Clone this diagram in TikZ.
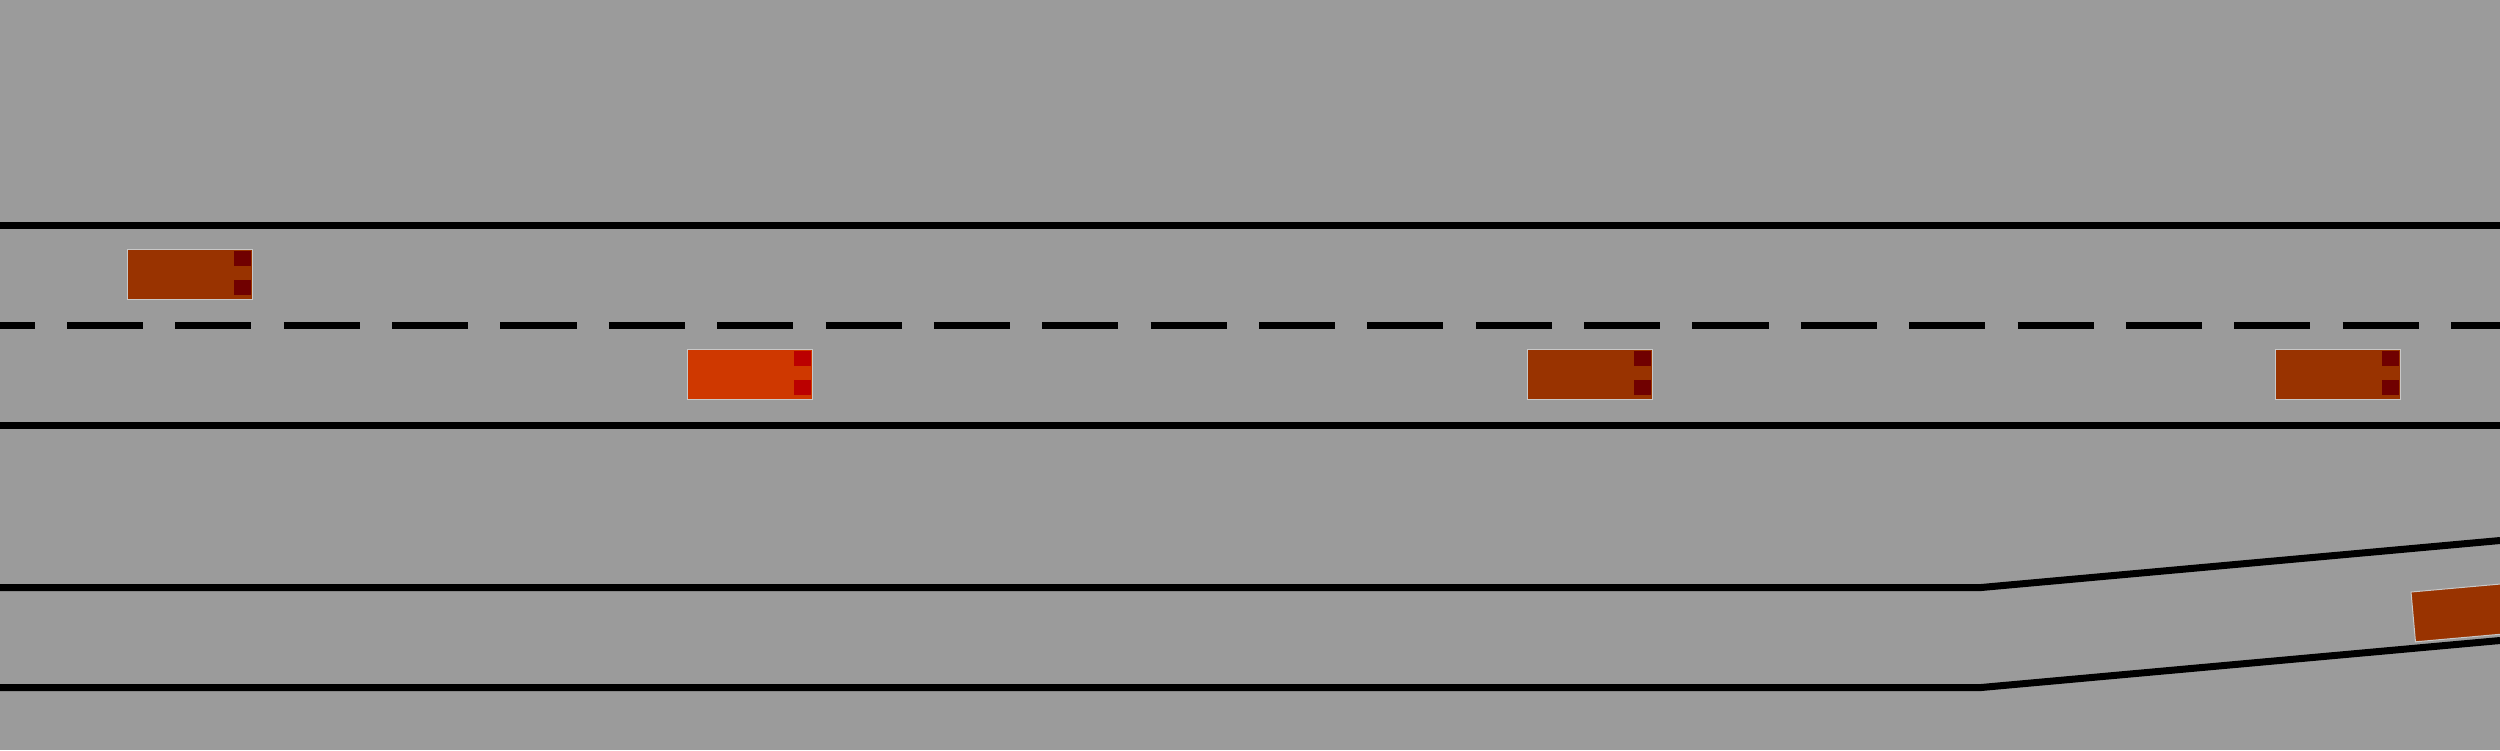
\documentclass[tikz,border=0pt]{standalone}
\usepackage{xcolor}
\usepackage{tikz}
\definecolor{Asphalt}{HTML}{9B9B9B}
\definecolor{Rust}{HTML}{993300}
\definecolor{RustL}{HTML}{700000}
\definecolor{Ego}{HTML}{CF3800}
\definecolor{EgoL}{HTML}{BB0000}
\definecolor{Rim}{HTML}{C8C8C8}

\tikzset{pics/car/.style 2 args={code={
  \filldraw[fill=#1,draw=Rim,line width=0.01cm] (0,0) rectangle (125,50);
  \fill[#2] (107,2) rectangle (124,17);
  \fill[#2] (107,31) rectangle (124,46);
}}}

\begin{document}
\begin{tikzpicture}[x=0.01cm,y=-0.01cm,
    edge/.style={line width=0.07cm},
    lanedash/.style={edge,dash pattern=on 0.76cm off 0.323cm,dash phase=0.413cm}]
  \clip (0,0) rectangle (2500,750);
  \fill[Asphalt] (0,0) rectangle (2500,750);
  % main road
  \draw[edge] (0,225.5) -- (2500,225.5);
  \draw[lanedash] (0,325.5) -- (2500,325.5);
  \draw[edge] (0,425.5) -- (2500,425.5);
  % on-ramp
  \draw[edge] (0,587.5) -- (1981,587.5) -- (2500,540.5);
  \draw[edge] (0,687.5) -- (1981,687.5) -- (2500,640.5);
  % vehicles
  \pic at (127,249) {car={Rust}{RustL}};
  \pic at (687,349) {car={Ego}{EgoL}};
  \pic at (1527,349) {car={Rust}{RustL}};
  \pic at (2275,349) {car={Rust}{RustL}};
  \pic[rotate=5.1] at (2411,592) {car={Rust}{RustL}};
\end{tikzpicture}
\end{document}
